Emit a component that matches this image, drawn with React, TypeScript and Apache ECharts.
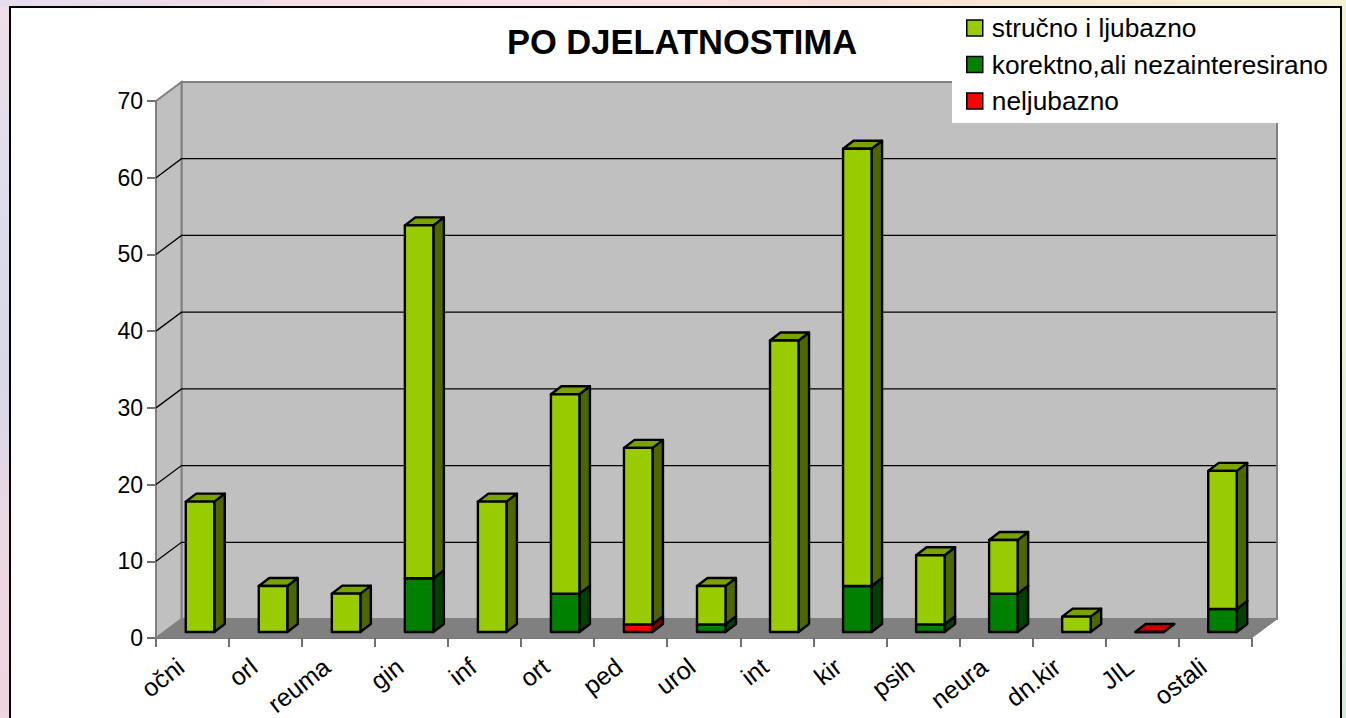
import React, { useEffect, useRef } from "react";
import * as echarts from "echarts";

const categories = ["očni", "orl", "reuma", "gin", "inf", "ort", "ped", "urol", "int", "kir", "psih", "neura", "dn.kir", "JIL", "ostali"];
const neljubazno: (number | null)[] = [null, null, null, null, null, null, 1, null, null, null, null, null, null, 0, null];
const korektno: (number | null)[] = [null, null, null, 7, null, 5, null, 1, null, 6, 1, 5, null, null, 3];
const strucno: (number | null)[] = [17, 6, 5, 46, 17, 26, 23, 5, 38, 57, 9, 7, 2, null, 18];
const yTicks = [0, 10, 20, 30, 40, 50, 60, 70];

const NAME_S = "stručno i ljubazno";
const NAME_K = "korektno,ali nezainteresirano";
const NAME_N = "neljubazno";

const WALL_DX = 25.5;
const WALL_DY = -19;
const BAR_OFF_X = 7.5;
const BAR_OFF_Y = -6;
const BAR_W = 28.5;
const BAR_DX = 10.5;
const BAR_DY = -8;
const FONT = "'Liberation Sans', Arial, sans-serif";

function stackRows(layer: (number | null)[], below: (number | null)[][]) {
  return layer.map((v, i) => {
    const base = below.reduce((s, a) => s + (a[i] ?? 0), 0);
    return [i, base, v === null ? null : base + v];
  });
}

function barRender(front: string, side: string, top: string) {
  return (_p: any, api: any) => {
    const i = api.value(0);
    const endRaw = api.value(2);
    if (endRaw === null || Number.isNaN(endRaw)) return null;
    const c0 = api.coord([i, api.value(1)]);
    const c1 = api.coord([i, endRaw]);
    const x0 = c0[0] + BAR_OFF_X - BAR_W / 2;
    const x1 = x0 + BAR_W;
    const yb = c0[1] + BAR_OFF_Y;
    const yt = c1[1] + BAR_OFF_Y;
    const st = (fill: string) => ({ fill, stroke: "#000", lineWidth: 2.4, lineJoin: "round" });
    return {
      type: "group",
      children: [
        { type: "polygon", shape: { points: [[x1, yb], [x1 + BAR_DX, yb + BAR_DY], [x1 + BAR_DX, yt + BAR_DY], [x1, yt]] }, style: st(side) },
        { type: "polygon", shape: { points: [[x0, yt], [x1, yt], [x1 + BAR_DX, yt + BAR_DY], [x0 + BAR_DX, yt + BAR_DY]] }, style: st(top) },
        { type: "rect", shape: { x: x0, y: yt, width: BAR_W, height: yb - yt }, style: st(front) },
      ],
    };
  };
}

function wallRender(params: any, api: any) {
  const r = params.coordSys;
  const l = r.x, t = r.y, w = r.width, h = r.height;
  const b = t + h;
  const poly = (points: number[][], fill: string, stroke = "#808080", lineWidth = 2) => ({
    type: "polygon", shape: { points }, style: { fill, stroke, lineWidth },
  });
  const children: any[] = [
    poly([[l + WALL_DX, t + WALL_DY], [l + w + WALL_DX, t + WALL_DY], [l + w + WALL_DX, b + WALL_DY], [l + WALL_DX, b + WALL_DY]], "#C0C0C0"),
    poly([[l, t], [l + WALL_DX, t + WALL_DY], [l + WALL_DX, b + WALL_DY], [l, b]], "#C0C0C0"),
    poly([[l, b], [l + WALL_DX, b + WALL_DY], [l + w + WALL_DX, b + WALL_DY], [l + w, b]], "#808080", "#808080", 1),
  ];
  yTicks.slice(1, -1).forEach((v) => {
    const y = api.coord([0, v])[1];
    children.push({
      type: "polyline",
      shape: { points: [[l, y], [l + WALL_DX, y + WALL_DY], [l + w + WALL_DX - 1, y + WALL_DY]] },
      style: { fill: "none", stroke: "#000", lineWidth: 1.3 },
    });
  });
  return { type: "group", children };
}

export default function App() {
  const ref = useRef<HTMLDivElement>(null);
  useEffect(() => {
    document.body.style.margin = "0";
    const chart = echarts.init(ref.current!, null, { renderer: "svg" });
    chart.setOption({
      animation: false,
      backgroundColor: "transparent",
      textStyle: { fontFamily: FONT, color: "#000" },
      title: {
        text: "PO DJELATNOSTIMA",
        left: 677,
        top: 19,
        textAlign: "center",
        textStyle: { fontSize: 34.5, fontWeight: "bold", color: "#000", fontFamily: FONT },
      },
      grid: { left: 156, right: 1346 - 1251.5, top: 101, bottom: 718 - 638, outerBoundsMode: "none" },
      xAxis: {
        type: "category",
        data: categories,
        boundaryGap: true,
        axisLine: { show: true, lineStyle: { color: "#404040", width: 1.5 } },
        axisTick: { show: true, alignWithLabel: false, length: 9, lineStyle: { color: "#404040", width: 1.5 } },
        axisLabel: { interval: 0, rotate: 38, margin: 16, padding: [0, 15, 0, 0], fontSize: 25, color: "#000", fontFamily: FONT },
      },
      yAxis: {
        type: "value",
        min: 0,
        max: 70,
        interval: 10,
        axisLine: { show: true, lineStyle: { color: "#404040", width: 1.5 } },
        axisTick: { show: true, length: 9, lineStyle: { color: "#404040", width: 1.5 } },
        splitLine: { show: false },
        axisLabel: { margin: 13, fontSize: 23, color: "#000", fontFamily: FONT },
      },
      legend: {
        data: [NAME_S, NAME_K, NAME_N],
        orient: "vertical",
        left: 952,
        top: 8,
        padding: [7, 8, 9, 14],
        itemGap: 10.5,
        itemWidth: 16,
        itemHeight: 16,
        icon: "rect",
        selectedMode: false,
        backgroundColor: "#fff",
        z: 10,
        itemStyle: { borderColor: "#000", borderWidth: 1.5 },
        textStyle: { fontSize: 26.3, color: "#000", padding: [0, 0, 0, 4], fontFamily: FONT },
      },
      series: [
        {
          type: "custom", name: "walls", silent: true, z: 1, clip: false,
          data: [[0, 0]],
          renderItem: wallRender,
          encode: { x: 0, y: 1 },
        },
        {
          type: "custom", name: NAME_N, z: 2, clip: false,
          itemStyle: { color: "#FF0000" },
          data: stackRows(neljubazno, []),
          renderItem: barRender("#FF0000", "#800000", "#CC0000"),
          encode: { x: 0, y: [1, 2] },
        },
        {
          type: "custom", name: NAME_K, z: 3, clip: false,
          itemStyle: { color: "#008000" },
          data: stackRows(korektno, [neljubazno]),
          renderItem: barRender("#008000", "#004000", "#006600"),
          encode: { x: 0, y: [1, 2] },
        },
        {
          type: "custom", name: NAME_S, z: 4, clip: false,
          itemStyle: { color: "#99CC00" },
          data: stackRows(strucno, [neljubazno, korektno]),
          renderItem: barRender("#99CC00", "#4D6600", "#7AA300"),
          encode: { x: 0, y: [1, 2] },
        },
      ],
    });
    return () => chart.dispose();
  }, []);

  return (
    <div
      style={{
        position: "absolute", left: 0, top: 0, width: 1346, height: 718, overflow: "hidden",
        backgroundImage:
          "linear-gradient(90deg,#e6dcee 0%,#f4dde6 25%,#f8e0e4 45%,#f8dcd8 62%,#f6e8d2 75%,#f4f0d4 100%)," +
          "linear-gradient(180deg,#f0dfe8 0%,#dcdcec 30%,#d8d8e8 52%,#ecd8e2 75%,#f0d4e0 100%)," +
          "linear-gradient(180deg,#f0f0d4 0%,#e8eed6 50%,#dcecdc 75%,#d6e8da 100%)",
        backgroundSize: "100% 7px,10px 100%,7px 100%",
        backgroundPosition: "0 0,0 0,100% 0",
        backgroundRepeat: "no-repeat",
      }}
    >
      <div style={{ position: "absolute", left: 9, top: 6, width: 1329, height: 730, background: "#fff", border: "2px solid #000" }} />
      <div ref={ref} style={{ position: "absolute", left: 0, top: 0, width: 1346, height: 718 }} />
    </div>
  );
}
